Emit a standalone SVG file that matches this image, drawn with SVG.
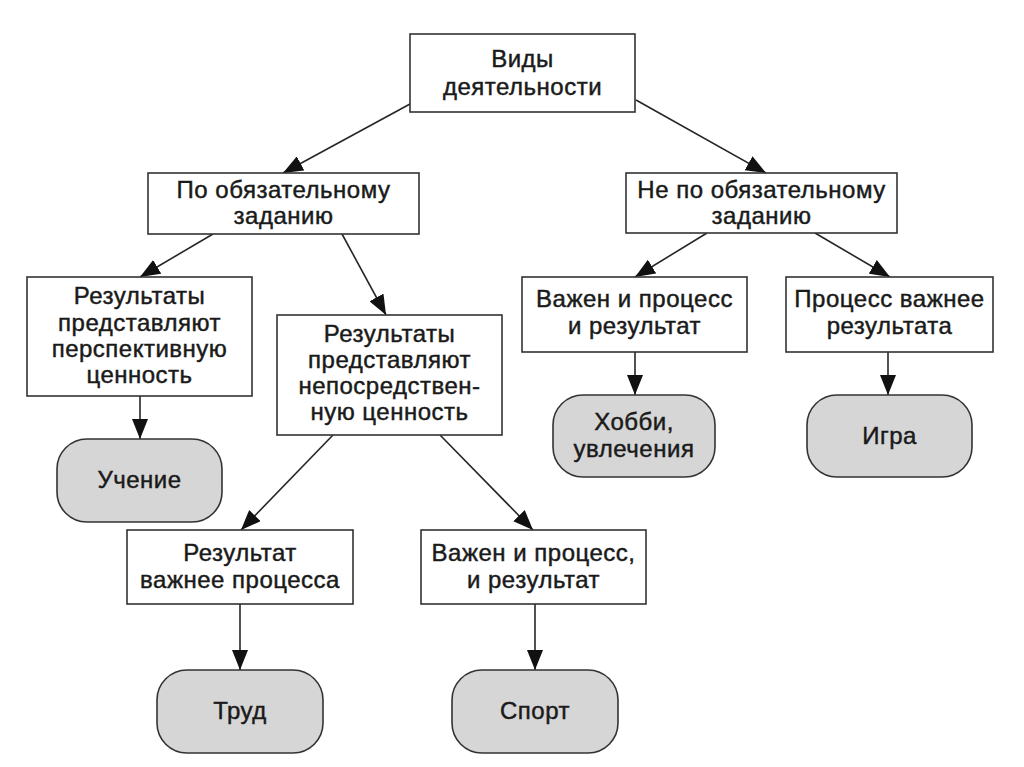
<svg xmlns="http://www.w3.org/2000/svg" width="1024" height="767" viewBox="0 0 1024 767">
<style>
.box{fill:#ffffff;stroke:#333333;stroke-width:1.6}
.pill{fill:#d6d6d6;stroke:#333333;stroke-width:1.6}
.lbl{font-family:"Liberation Sans",Arial,sans-serif;font-size:24px;letter-spacing:0.5px;fill:#1a1a1a;stroke:#1a1a1a;stroke-width:0.45;text-anchor:middle}
.con line{stroke:#262626;stroke-width:1.6;marker-end:url(#ah)}
</style>
<defs>
<marker id="ah" markerUnits="userSpaceOnUse" viewBox="0 0 20 16" refX="20" refY="8" markerWidth="20" markerHeight="16" orient="auto">
<path d="M0,0 L20,8 L0,16 z" fill="#111111"/>
</marker>
</defs>
<rect width="1024" height="767" fill="#ffffff"/>
<g id="connectors" class="con">
<line x1="410" y1="104" x2="283" y2="173"/>
<line x1="636" y1="100" x2="766" y2="173"/>
<line x1="213" y1="234" x2="140" y2="277"/>
<line x1="342" y1="234" x2="386" y2="315"/>
<line x1="140" y1="396" x2="140" y2="439"/>
<line x1="333" y1="435" x2="241" y2="530"/>
<line x1="440" y1="435" x2="533" y2="530"/>
<line x1="240" y1="604" x2="240" y2="670"/>
<line x1="535" y1="604" x2="535" y2="670"/>
<line x1="707" y1="233" x2="635" y2="277"/>
<line x1="815" y1="233" x2="890" y2="277"/>
<line x1="635" y1="352" x2="635" y2="395"/>
<line x1="888" y1="352" x2="888" y2="395"/>
</g>
<g id="root">
<rect class="box" x="410" y="34" width="225" height="78"/>
<text class="lbl" x="522.5" y="67">Виды</text>
<text class="lbl" x="522.5" y="95">деятельности</text>
</g>
<g id="mandatory">
<rect class="box" x="148" y="173" width="271" height="61"/>
<text class="lbl" x="283.5" y="198">По обязательному</text>
<text class="lbl" x="283.5" y="224">заданию</text>
</g>
<g id="optional">
<rect class="box" x="626" y="173" width="271" height="60"/>
<text class="lbl" x="761.5" y="198">Не по обязательному</text>
<text class="lbl" x="761.5" y="224">заданию</text>
</g>
<g id="perspective">
<rect class="box" x="27" y="277" width="225" height="119"/>
<text class="lbl" x="139.5" y="304">Результаты</text>
<text class="lbl" x="139.5" y="331">представляют</text>
<text class="lbl" x="139.5" y="357">перспективную</text>
<text class="lbl" x="139.5" y="383">ценность</text>
</g>
<g id="immediate">
<rect class="box" x="277" y="315" width="225" height="120"/>
<text class="lbl" x="389.5" y="342">Результаты</text>
<text class="lbl" x="389.5" y="368">представляют</text>
<text class="lbl" x="389.5" y="394">непосредствен-</text>
<text class="lbl" x="389.5" y="420">ную ценность</text>
</g>
<g id="both-right">
<rect class="box" x="522" y="277" width="225" height="75"/>
<text class="lbl" x="634.5" y="307">Важен и процесс</text>
<text class="lbl" x="634.5" y="334">и результат</text>
</g>
<g id="process-more">
<rect class="box" x="786" y="277" width="207" height="75"/>
<text class="lbl" x="889.5" y="307">Процесс важнее</text>
<text class="lbl" x="889.5" y="334">результата</text>
</g>
<g id="learning">
<rect class="pill" x="57" y="439" width="165" height="83" rx="30" ry="30"/>
<text class="lbl" x="139.5" y="488">Учение</text>
</g>
<g id="hobby">
<rect class="pill" x="553" y="395" width="162" height="82" rx="30" ry="30"/>
<text class="lbl" x="634" y="430">Хобби,</text>
<text class="lbl" x="634" y="457">увлечения</text>
</g>
<g id="game">
<rect class="pill" x="807" y="395" width="165" height="82" rx="30" ry="30"/>
<text class="lbl" x="889.5" y="444">Игра</text>
</g>
<g id="result-more">
<rect class="box" x="127" y="530" width="226" height="74"/>
<text class="lbl" x="240" y="561">Результат</text>
<text class="lbl" x="240" y="588">важнее процесса</text>
</g>
<g id="both-left">
<rect class="box" x="421" y="530" width="225" height="74"/>
<text class="lbl" x="533.5" y="561">Важен и процесс,</text>
<text class="lbl" x="533.5" y="588">и результат</text>
</g>
<g id="labour">
<rect class="pill" x="157" y="670" width="166" height="83" rx="30" ry="30"/>
<text class="lbl" x="240" y="719">Труд</text>
</g>
<g id="sport">
<rect class="pill" x="452" y="670" width="166" height="83" rx="30" ry="30"/>
<text class="lbl" x="535" y="719">Спорт</text>
</g>
</svg>
